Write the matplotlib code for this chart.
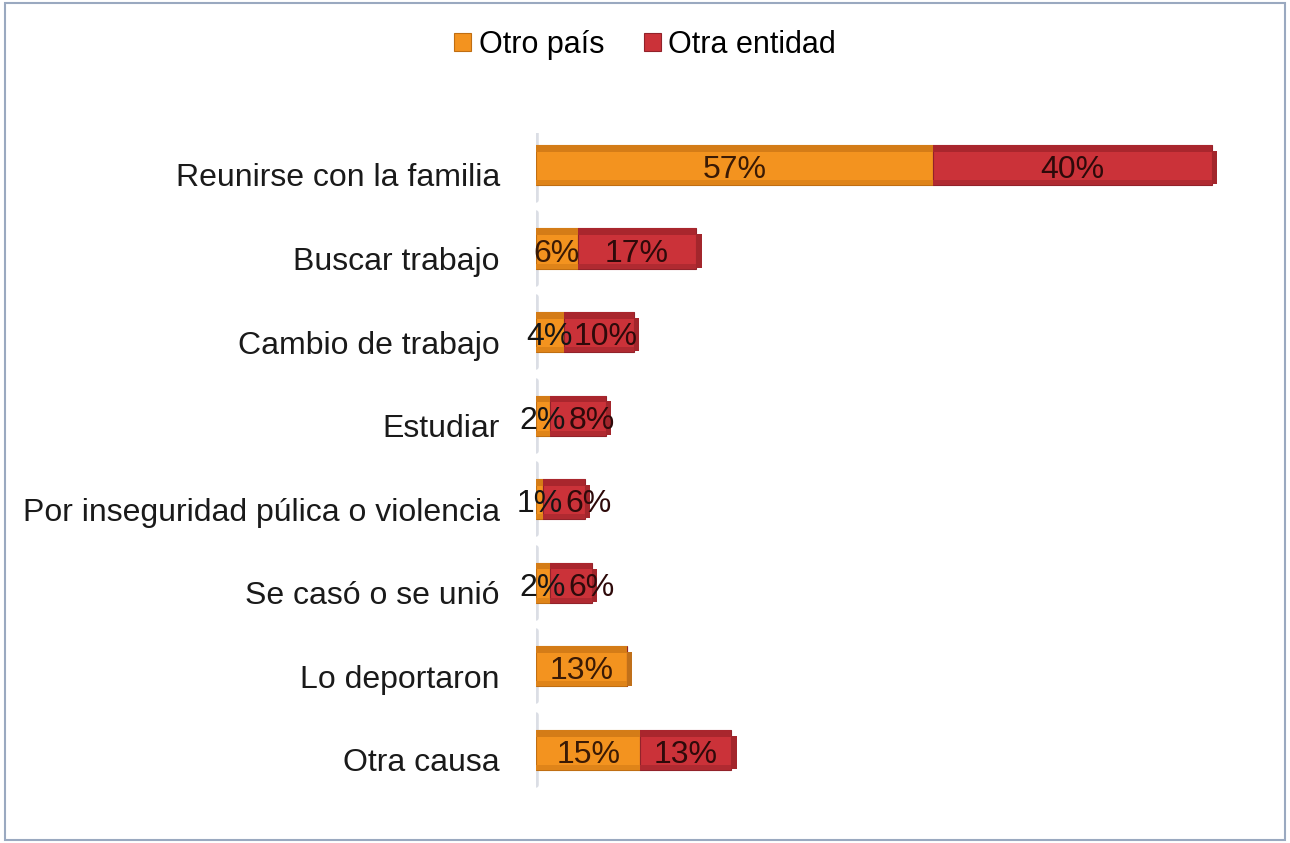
import matplotlib.pyplot as plt
import numpy as np
from matplotlib.patches import Rectangle

plt.rcParams['font.family'] = ['Liberation Sans', 'DejaVu Sans']

# datos
causas = ['Reunirse con la familia', 'Buscar trabajo', 'Cambio de trabajo', 'Estudiar',
          'Por inseguridad púlica o violencia', 'Se casó o se unió', 'Lo deportaron', 'Otra causa']
otro_pais = [57, 6, 4, 2, 1, 2, 13, 15]
otra_entidad = [40, 17, 10, 8, 6, 6, 0, 13]

naranja = '#F3931F'
rojo = '#CB3239'

fig = plt.figure(figsize=(12.9, 8.43), dpi=100)
ax = fig.add_axes([0.4155, 0.049, 0.54, 0.793])

y = np.arange(len(causas))
yb = y - 0.12   # las barras quedan un poco arriba de la etiqueta
h = 0.48
total = np.array(otro_pais) + np.array(otra_entidad)

# sombra del "muro" a la izquierda
for yi in yb:
    ax.plot([0, 0], [yi - 0.42, yi + 0.42], color='#C3C8D4', lw=4, alpha=0.6,
            solid_capstyle='round', zorder=0)

ax.barh(yb, otro_pais, height=h, color=naranja, edgecolor='#C06E12', linewidth=0.8, label='Otro país')
ax.barh(yb, otra_entidad, left=otro_pais, height=h, color=rojo, edgecolor='#92222A', linewidth=0.8,
        label='Otra entidad')

# franjas superior e inferior para simular el efecto 3D
ax.barh(yb - h / 2 + 0.04, otro_pais, height=0.08, color='#D47C17', linewidth=0)
ax.barh(yb - h / 2 + 0.04, otra_entidad, left=otro_pais, height=0.08, color='#A9262D', linewidth=0)
ax.barh(yb + h / 2 - 0.03, otro_pais, height=0.06, color='#DF8419', linewidth=0)
ax.barh(yb + h / 2 - 0.03, otra_entidad, left=otro_pais, height=0.06, color='#B02A31', linewidth=0)

# tapa del extremo derecho
cap = ['#C0701A' if e == 0 else '#A3262C' for e in otra_entidad]
ax.barh(yb + 0.03, 0.8, left=total, height=h - 0.08, color=cap, linewidth=0)

# etiquetas
for i in range(len(causas)):
    xo = otro_pais[i] / 2
    if otro_pais[i] > 0:
        ax.text(xo, yb[i] + 0.06, f'{otro_pais[i]}%', ha='center', va='center',
                fontsize=23, color='#3A1A05' if otro_pais[i] >= 5 else '#151515')
    if otra_entidad[i] > 0:
        # separar etiquetas cuando el segmento naranja es muy corto
        gap = 7.0 if otra_entidad[i] < 10 else 8.0
        xr = max(otro_pais[i] + otra_entidad[i] / 2, xo + gap)
        ax.text(xr, yb[i] + 0.06, f'{otra_entidad[i]}%', ha='center',
                va='center', fontsize=23, color='#2E0A0A')

ax.set_yticks(y)
ax.set_yticklabels(causas, fontsize=23, color='#1A1A1A')
ax.tick_params(axis='y', length=0, pad=26)
ax.set_xticks([])
ax.set_xlim(0, 100)
ax.set_ylim(len(causas) - 0.5, -0.5)
for s in ax.spines.values():
    s.set_visible(False)

leg = fig.legend(loc='center', bbox_to_anchor=(0.5, 0.947), ncol=2, frameon=False, fontsize=22,
                 handlelength=0.55, handleheight=0.55, handletextpad=0.25, columnspacing=1.3)

# marco
fig.patches.append(Rectangle((0.004, 0.004), 0.992, 0.992, transform=fig.transFigure, fill=False,
                             edgecolor='#9AA9C0', linewidth=1.5))

plt.savefig('out.png', dpi=100)
